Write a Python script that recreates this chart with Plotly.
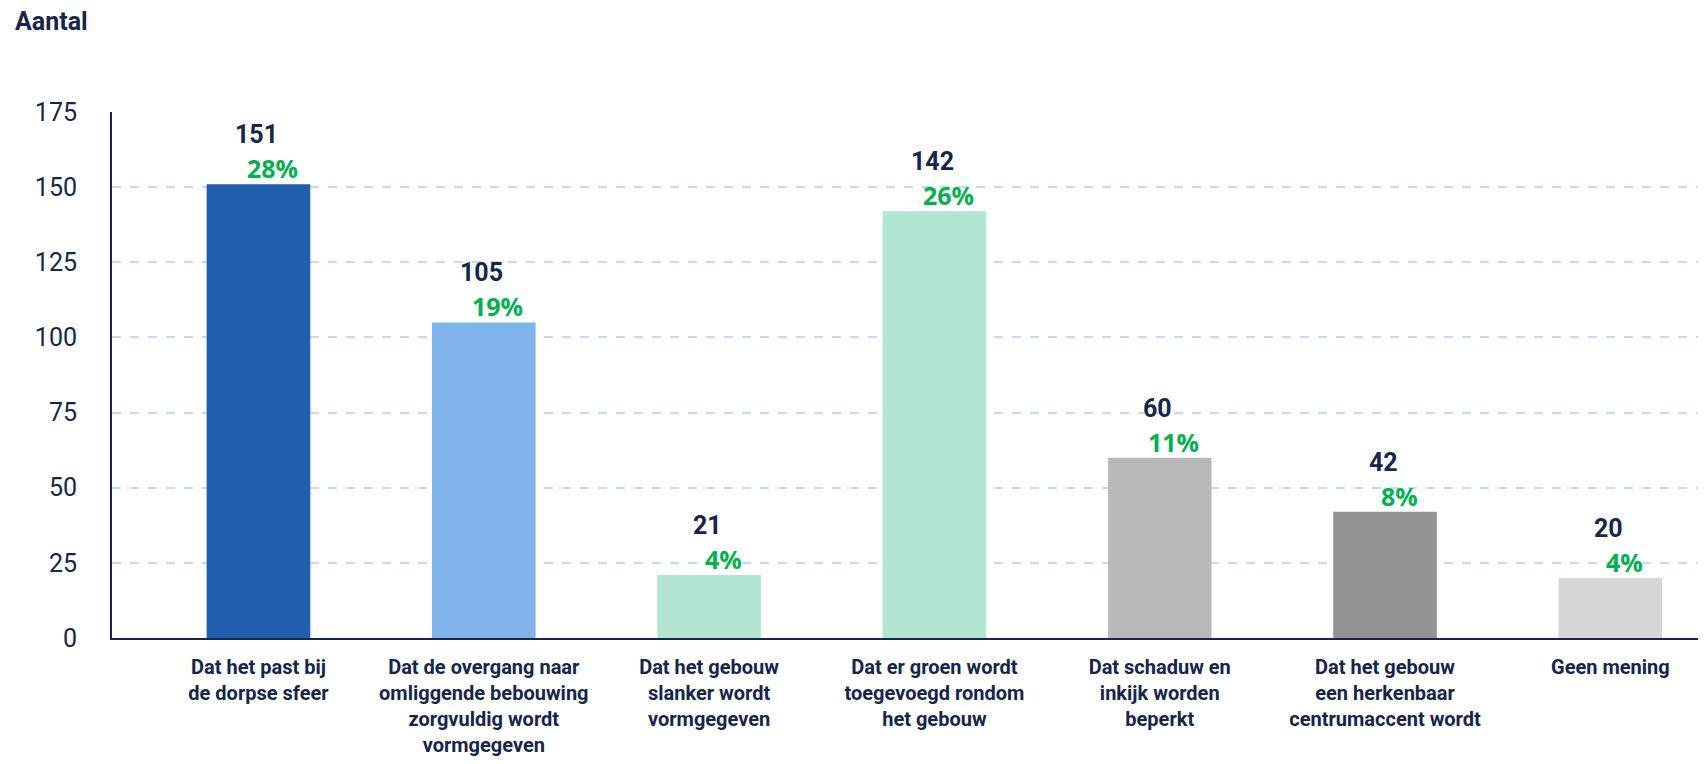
import plotly.graph_objects as go

categories = [
    "Dat het past bij<br>de dorpse sfeer",
    "Dat de overgang naar<br>omliggende bebouwing<br>zorgvuldig wordt<br>vormgegeven",
    "Dat het gebouw<br>slanker wordt<br>vormgegeven",
    "Dat er groen wordt<br>toegevoegd rondom<br>het gebouw",
    "Dat schaduw en<br>inkijk worden<br>beperkt",
    "Dat het gebouw<br>een herkenbaar<br>centrumaccent wordt",
    "Geen mening",
]
counts = [151, 105, 21, 142, 60, 42, 20]
percentages = ["28%", "19%", "4%", "26%", "11%", "8%", "4%"]
bar_colors = ["#1f5fae", "#7fb3ea", "#b3e6d1", "#b3e6d1", "#b8b8b8", "#939393", "#d6d6d6"]
y_ticks = [0, 25, 50, 75, 100, 125, 150, 175]

NAVY = "#16254a"
GREEN = "#00b050"

W, H = 1706, 764
ML, MR, MT, MB = 104, 0, 104, 134

fig = go.Figure()
fig.add_trace(go.Bar(
    x=categories, y=counts, marker=dict(color=bar_colors, line=dict(width=0)),
    width=0.46, hoverinfo="skip",
))

annotations = []
for c, v, p in zip(categories, counts, percentages):
    annotations.append(dict(x=c, y=v, xref="x", yref="y", text=f"<b>{v}</b>",
                            showarrow=False, yanchor="bottom", yshift=33, xshift=-2,
                            font=dict(family="Roboto", size=25, color=NAVY)))
    annotations.append(dict(x=c, y=v, xref="x", yref="y", text=f"<b>{p}</b>",
                            showarrow=False, yanchor="bottom", yshift=-3, xshift=14,
                            font=dict(family="Open Sans", size=25, color=GREEN)))
pw = W - ML - MR
ph = H - MT - MB
annotations.append(dict(x=(5 - ML) / pw, y=1 + (MT - 14) / ph, xref="paper", yref="paper",
                        xanchor="left", yanchor="middle", text="<b>Aantal</b>", showarrow=False,
                        font=dict(family="Roboto", size=25, color=NAVY)))

fig.update_layout(
    width=W, height=H,
    margin=dict(l=ML, r=MR, t=MT, b=MB),
    paper_bgcolor="white", plot_bgcolor="white",
    showlegend=False,
    annotations=annotations,
)

fig.update_xaxes(
    range=[-0.65, 6.46], showline=True, linecolor=NAVY, linewidth=2,
    showgrid=False, ticks="outside", ticklen=10, tickcolor="rgba(0,0,0,0)",
    tickfont=dict(family="Roboto", size=20, color=NAVY), tickangle=0,
    tickvals=categories,
    ticktext=["<b>" + c.replace("<br>", "</b><br><b>") + "</b>" for c in categories],
)
fig.update_yaxes(
    range=[0, 175], tickvals=y_ticks, showline=True, linecolor=NAVY, linewidth=2,
    showgrid=True, gridcolor="#c5d9f2", griddash="dash", gridwidth=2,
    zeroline=False, ticks="outside", ticklen=28, tickcolor="rgba(0,0,0,0)",
    tickfont=dict(family="Roboto", size=25, color=NAVY),
)

fig.write_html("out.html")
